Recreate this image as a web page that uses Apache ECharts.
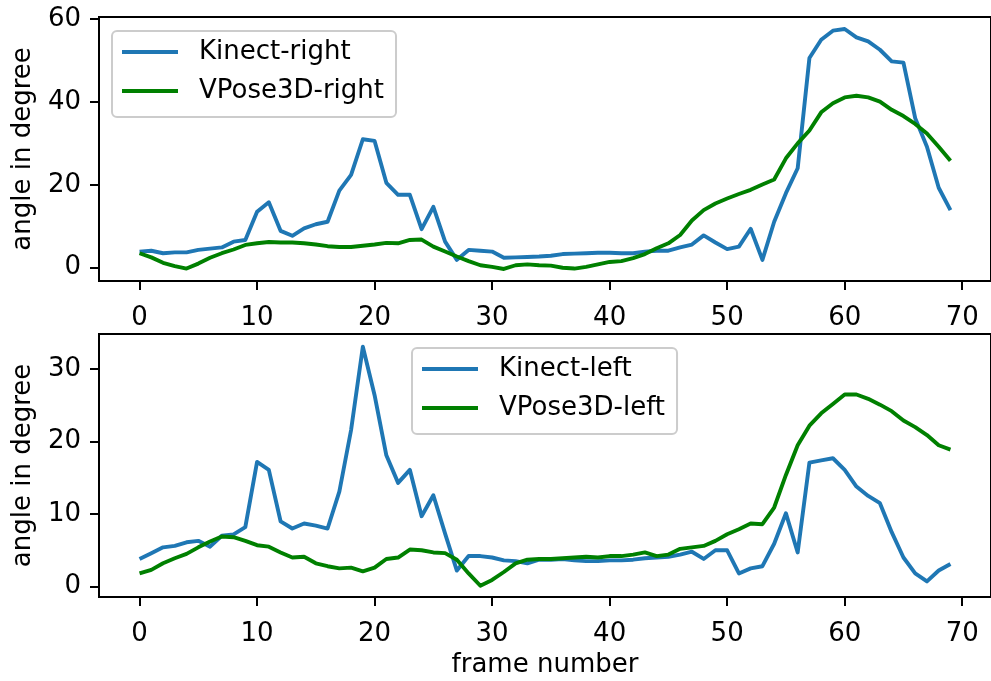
<!DOCTYPE html>
<html>
<head>
<meta charset="utf-8">
<script src="https://cdn.jsdelivr.net/npm/echarts@6/dist/echarts.min.js"></script>
<style>html,body{margin:0;padding:0;background:#fff}#c{width:991px;height:681px}</style>
</head>
<body>
<div id="c"></div>
<script>
const frames = [0,1,2,3,4,5,6,7,8,9,10,11,12,13,14,15,16,17,18,19,20,21,22,23,24,25,26,27,28,29,30,31,32,33,34,35,36,37,38,39,40,41,42,43,44,45,46,47,48,49,50,51,52,53,54,55,56,57,58,59,60,61,62,63,64,65,66,67,68,69];
const kinectRight = [3.9,4.1,3.5,3.7,3.7,4.3,4.6,4.9,6.3,6.7,13.5,15.8,8.9,7.7,9.5,10.5,11.1,18.6,22.4,31.0,30.6,20.5,17.6,17.6,9.3,14.7,6.3,1.9,4.3,4.1,3.9,2.4,2.5,2.6,2.7,2.9,3.3,3.4,3.5,3.6,3.6,3.5,3.5,3.9,4.1,4.1,4.9,5.6,7.8,6.1,4.5,5.1,9.4,1.9,11.1,18.0,24.0,50.6,55.0,57.2,57.6,55.6,54.6,52.6,49.8,49.5,36.1,29.2,19.3,13.9];
const vposeRight = [3.5,2.5,1.2,0.4,-0.2,1.0,2.4,3.5,4.4,5.5,5.9,6.2,6.1,6.1,5.9,5.6,5.2,5.0,5.0,5.3,5.6,6.0,5.9,6.7,6.8,5.1,3.9,2.7,1.6,0.6,0.2,-0.3,0.6,0.8,0.6,0.5,0.0,-0.2,0.2,0.8,1.4,1.6,2.3,3.3,4.7,5.9,7.9,11.4,13.9,15.5,16.7,17.8,18.8,20.1,21.3,26.4,30.0,33.1,37.5,39.7,41.1,41.5,41.1,40.1,38.1,36.6,34.7,32.4,29.2,25.8];
const kinectLeft = [3.8,4.6,5.4,5.6,6.1,6.3,5.5,7.0,7.2,8.2,17.2,16.1,9.0,8.0,8.7,8.4,8.0,13.1,21.6,33.1,26.4,18.1,14.3,16.1,9.7,12.6,7.3,2.2,4.2,4.2,4.0,3.6,3.5,3.2,3.7,3.7,3.8,3.6,3.5,3.5,3.6,3.6,3.7,3.9,4.0,4.1,4.4,4.8,3.8,5.0,5.0,1.8,2.5,2.8,5.9,10.1,4.7,17.1,17.4,17.7,16.1,13.8,12.5,11.5,7.5,4.0,1.8,0.7,2.2,3.1];
const vposeLeft = [1.8,2.3,3.2,3.9,4.5,5.4,6.2,6.9,6.8,6.3,5.7,5.5,4.7,4.0,4.1,3.2,2.8,2.5,2.6,2.1,2.6,3.8,4.0,5.1,5.0,4.7,4.6,3.7,1.8,0.1,0.9,2.0,3.2,3.7,3.8,3.8,3.9,4.0,4.1,4.0,4.2,4.2,4.4,4.7,4.2,4.4,5.2,5.4,5.6,6.3,7.2,7.9,8.7,8.6,10.9,15.4,19.5,22.2,23.9,25.2,26.5,26.5,25.9,25.1,24.2,22.9,22.0,20.9,19.5,18.9];
const xTicks = [0,10,20,30,40,50,60,70];
const yTicksTop = [0,20,40,60];
const yTicksBottom = [0,10,20,30];
const seriesNames = ['Kinect-right','VPose3D-right','Kinect-left','VPose3D-left'];
const BLUE = '#1f77b4', GREEN = '#008000';
const FONT = 'DejaVu Sans';

const pair = ys => frames.map((f, i) => [f, ys[i]]);

const chart = echarts.init(document.getElementById('c'), null, {renderer: 'canvas'});

function xAxisDef(gi, withName) {
  return {
    type: 'value', gridIndex: gi, min: -3.45, max: 72.45, position: 'bottom',
    axisLine: {show: true, onZero: false, lineStyle: {color: '#000', width: 2}},
    splitLine: {show: false},
    axisTick: {show: true, customValues: xTicks, length: 9, lineStyle: {color: '#000', width: 2}},
    axisLabel: {customValues: xTicks, margin: 24, color: '#000', fontFamily: FONT, fontSize: 26},
    name: withName ? 'frame number' : '',
    nameLocation: 'middle', nameGap: 55, nameMoveOverlap: false,
    nameTextStyle: {color: '#000', fontFamily: FONT, fontSize: 26}
  };
}
function yAxisDef(gi, min, max, ticks) {
  return {
    type: 'value', gridIndex: gi, min: min, max: max, position: 'left',
    axisLine: {show: true, onZero: false, lineStyle: {color: '#000', width: 2}},
    splitLine: {show: false},
    axisTick: {show: true, customValues: ticks, length: 9, lineStyle: {color: '#000', width: 2}},
    axisLabel: {customValues: ticks, margin: 18, color: '#000', fontFamily: FONT, fontSize: 26},
    name: 'angle in degree', nameLocation: 'middle', nameGap: 63, nameMoveOverlap: false,
    nameTextStyle: {color: '#000', fontFamily: FONT, fontSize: 26}
  };
}
function lineSeries(name, data, color, xi) {
  return {
    name: name, type: 'line', xAxisIndex: xi, yAxisIndex: xi,
    data: data, showSymbol: false, symbol: 'none',
    lineStyle: {color: color, width: 3.9, join: 'round'},
    itemStyle: {color: color},
    emphasis: {disabled: true}, animation: false
  };
}
const legendBase = {
  orient: 'vertical', icon: 'rect', itemWidth: 56, itemHeight: 4, itemGap: 9,
  backgroundColor: 'rgba(255,255,255,0.8)', borderColor: '#cccccc', borderWidth: 2, borderRadius: 5,
  textStyle: {color: '#000', fontFamily: FONT, fontSize: 26, lineHeight: 30, padding: [0, 0, 0, 16]},
  selectedMode: false
};

chart.setOption({
  animation: false,
  backgroundColor: '#fff',
  grid: [
    {left: 99, top: 17, width: 893, height: 264, show: true, borderColor: '#000', borderWidth: 2, backgroundColor: 'transparent'},
    {left: 99, top: 334, width: 893, height: 263, show: true, borderColor: '#000', borderWidth: 2, backgroundColor: 'transparent'}
  ],
  xAxis: [xAxisDef(0, false), xAxisDef(1, true)],
  yAxis: [yAxisDef(0, -3.2, 60.5, yTicksTop), yAxisDef(1, -1.45, 34.85, yTicksBottom)],
  legend: [
    Object.assign({}, legendBase, {data: [seriesNames[0], seriesNames[1]], left: 112, top: 31, padding: [6, 12, 11, 10]}),
    Object.assign({}, legendBase, {data: [seriesNames[2], seriesNames[3]], left: 412, top: 348, padding: [6, 12, 11, 10]})
  ],
  series: [
    lineSeries(seriesNames[0], pair(kinectRight), BLUE, 0),
    lineSeries(seriesNames[1], pair(vposeRight), GREEN, 0),
    lineSeries(seriesNames[2], pair(kinectLeft), BLUE, 1),
    lineSeries(seriesNames[3], pair(vposeLeft), GREEN, 1)
  ]
});
</script>
</body>
</html>
